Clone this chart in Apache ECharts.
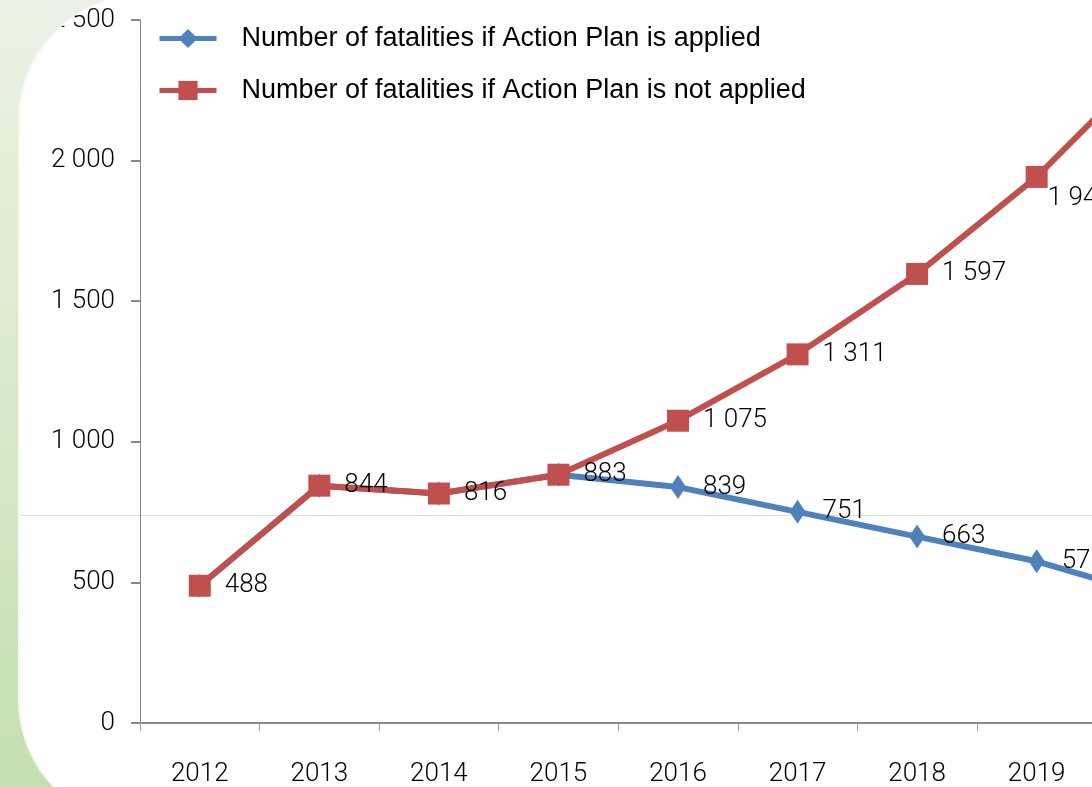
<!DOCTYPE html>
<html>
<head>
<meta charset="utf-8">
<script src="https://cdn.jsdelivr.net/npm/echarts@6/dist/echarts.min.js"></script>
<style>
html, body { margin: 0; padding: 0; width: 1092px; height: 787px; overflow: hidden; }
body { position: relative; background: linear-gradient(to bottom, #ecf3e6 0%, #c4dfb0 100%); }
#panel { position: absolute; left: 20px; top: -6px; width: 1200px; height: 832px; background: #fff;
         border-radius: 126px 0 0 126px; overflow: hidden; box-shadow: -2px 0 0 0 #f7faf3; }
#hline { position: absolute; left: 0; top: 521px; width: 1200px; height: 1px; background: #d9e5cc; }
#main { position: absolute; left: -20px; top: 6px; width: 1216px; height: 787px; }
</style>
</head>
<body>
<div id="panel">
  <div id="hline"></div>
  <div id="main"></div>
</div>
<script>
// categories
var years = ['2012', '2013', '2014', '2015', '2016', '2017', '2018', '2019', '2020'];
// fatalities with the action plan
var applied = [488, 844, 816, 883, 839, 751, 663, 575, 450];
// fatalities without the action plan
var notApplied = [488, 844, 816, 883, 1075, 1311, 1597, 1942, 2368];

var nameApplied = 'Number of fatalities if Action Plan is applied';
var nameNotApplied = 'Number of fatalities if Action Plan is not applied';

var numFont = "Roboto";

function fmt(v) {
    if (v >= 1000) {
        var r = String(v % 1000);
        while (r.length < 3) r = '0' + r;
        return Math.floor(v / 1000) + ' ' + r;
    }
    return String(v);
}

// blue labels only where the lines split, otherwise they would sit twice
var appliedData = applied.map(function (v, i) {
    return { value: v, label: { show: v !== notApplied[i] } };
});
var notAppliedData = notApplied.map(function (v, i) {
    var item = { value: v };
    if (i === 7) item.label = { offset: [-14, 22] };
    return item;
});

var labelStyle = {
    show: true,
    position: 'right',
    color: '#000',
    fontSize: 26,
    fontFamily: numFont,
    fontWeight: 300,
    formatter: function (p) { return fmt(p.value); }
};

var myChart = echarts.init(document.getElementById('main'));
var option = {
    animation: false,
    backgroundColor: 'transparent',
    grid: { left: 140, right: 0, top: 20, bottom: 63, containLabel: false },
    legend: {
        orient: 'vertical',
        left: 152,
        top: 20,
        itemWidth: 57,
        itemHeight: 24,
        itemGap: 25,
        lineStyle: { width: 5 },
        textStyle: { fontSize: 27, fontFamily: 'Liberation Sans', color: '#000', padding: [0, 0, 0, 20] },
        data: [nameApplied, nameNotApplied]
    },
    xAxis: {
        type: 'category',
        data: years,
        boundaryGap: true,
        axisLine: { lineStyle: { color: '#888', width: 2 } },
        axisTick: { show: true, length: 8, lineStyle: { color: '#999', width: 1 } },
        axisLabel: { margin: 38, color: '#000', fontSize: 26, fontFamily: numFont, fontWeight: 300 },
        splitLine: { show: false }
    },
    yAxis: {
        type: 'value',
        min: 0,
        max: 2500,
        interval: 500,
        axisLine: { show: true, lineStyle: { color: '#888', width: 1 } },
        axisTick: { show: true, length: 9, lineStyle: { color: '#888', width: 2 } },
        axisLabel: { margin: 25, color: '#000', fontSize: 26, fontFamily: numFont, fontWeight: 300, formatter: fmt },
        splitLine: { show: false }
    },
    series: [{
        name: nameApplied,
        type: 'line',
        data: appliedData,
        symbol: 'diamond',
        symbolSize: [16, 24],
        lineStyle: { color: '#4f81bd', width: 6 },
        itemStyle: { color: '#4f81bd' },
        label: Object.assign({ distance: 17 }, labelStyle)
    }, {
        name: nameNotApplied,
        type: 'line',
        data: notAppliedData,
        symbol: 'rect',
        symbolSize: 22,
        lineStyle: { color: '#c0504d', width: 6 },
        itemStyle: { color: '#c0504d' },
        label: Object.assign({ distance: 14 }, labelStyle)
    }]
};
myChart.setOption(option);
</script>
</body>
</html>
